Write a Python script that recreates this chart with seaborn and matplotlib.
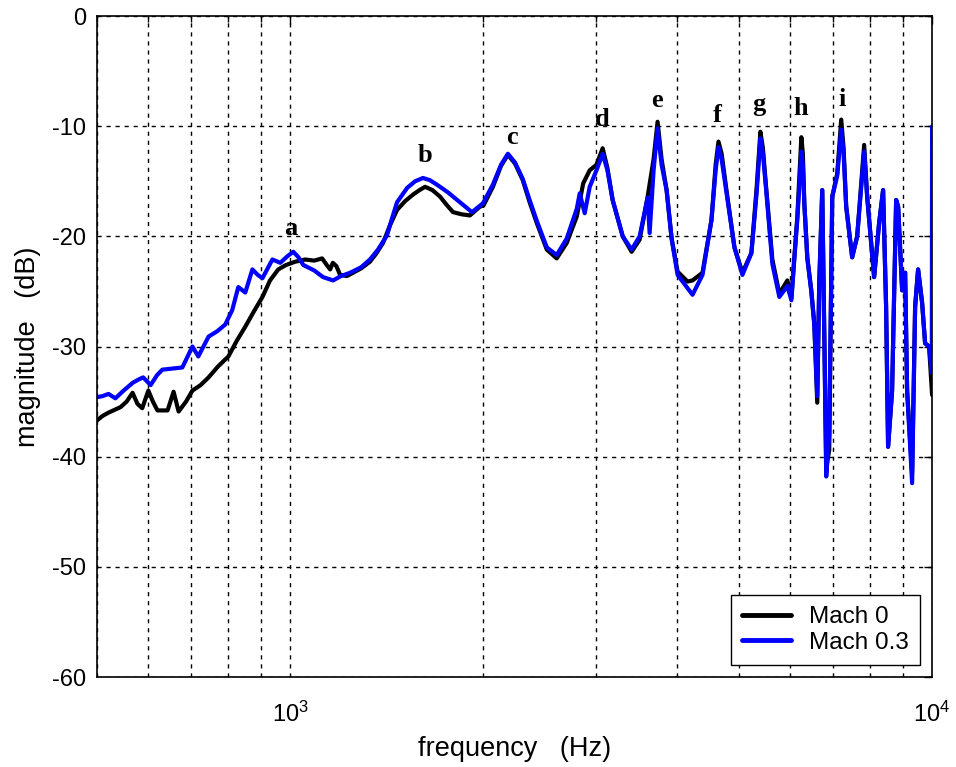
import numpy as np
import pandas as pd
import seaborn as sns
import matplotlib
matplotlib.use("Agg")
import matplotlib.pyplot as plt
from matplotlib.ticker import LogLocator, NullFormatter

# Frequency response, Mach 0 (Hz, dB)
freq_m0 = [500, 510, 521, 544, 556, 568, 578, 588, 601, 611, 621, 644, 658, 670,
           688, 704, 725, 746, 772, 801, 825, 851, 878, 905, 930, 958, 985, 1018,
           1055, 1090, 1121, 1140, 1154, 1165, 1180, 1196, 1225, 1253, 1290, 1331,
           1360, 1395, 1430, 1467, 1510, 1554, 1590, 1622, 1665, 1712, 1750, 1793,
           1850, 1905, 1975, 2000, 2069, 2130, 2183, 2240, 2303, 2360, 2422, 2510,
           2601, 2696, 2795, 2860, 2928, 3000, 3067, 3120, 3179, 3296, 3403, 3502,
           3604, 3682, 3735, 3789, 3858, 3928, 4013, 4159, 4234, 4388, 4532, 4600,
           4647, 4700, 4782, 4921, 5064, 5230, 5330, 5401, 5450, 5518, 5638, 5781,
           5950, 6036, 6101, 6166, 6256, 6290, 6323, 6391, 6483, 6553, 6623, 6671,
           6743, 6840, 6914, 6989, 7115, 7218, 7280, 7348, 7507, 7643, 7837, 7922,
           8122, 8269, 8388, 8479, 8540, 8663, 8790, 8853, 8981, 9078, 9143, 9308,
           9409, 9510, 9647, 9752, 9892, 10000]
mag_m0 = [-36.7, -36.3, -36.0, -35.5, -35.0, -34.2, -35.2, -35.6, -34.0, -35.0,
          -35.8, -35.8, -34.1, -35.9, -35.0, -34.0, -33.5, -32.8, -31.8, -30.9,
          -29.5, -28.2, -26.8, -25.5, -24.0, -23.0, -22.6, -22.3, -22.1, -22.2,
          -22.0, -22.6, -23.0, -22.4, -22.7, -23.5, -23.6, -23.3, -22.9, -22.3,
          -21.6, -20.6, -19.0, -17.6, -16.8, -16.2, -15.8, -15.5, -15.8, -16.4,
          -17.1, -17.8, -18.0, -18.1, -17.3, -17.2, -15.5, -13.6, -12.6, -13.4,
          -14.9, -16.9, -18.8, -21.2, -22.0, -20.6, -18.2, -15.2, -14.0, -13.5,
          -12.0, -13.8, -16.7, -20.0, -21.4, -20.3, -16.4, -13.0, -9.6, -13.0,
          -15.8, -20.2, -23.2, -24.1, -24.0, -23.3, -18.5, -13.5, -11.4, -12.5,
          -15.8, -21.0, -23.3, -21.5, -15.5, -10.5, -12.0, -15.8, -22.1, -25.2,
          -24.0, -25.6, -21.9, -18.2, -11.0, -12.5, -17.0, -21.9, -24.9, -27.9,
          -35.1, -24.2, -15.8, -41.0, -39.4, -16.4, -14.3, -9.4, -12.0, -17.3,
          -21.9, -20.0, -11.7, -16.4, -23.7, -18.8, -15.8, -26.4, -39.1, -34.0,
          -16.7, -17.3, -24.9, -23.3, -34.0, -41.5, -26.4, -23.0, -26.0, -29.7,
          -30.0, -34.4]

# Frequency response, Mach 0.3 (Hz, dB)
freq_m03 = [500, 510, 521, 534, 550, 568, 580, 590, 606, 620, 632, 655, 679, 704,
            719, 746, 770, 792, 812, 830, 851, 873, 890, 905, 938, 965, 990, 1011,
            1030, 1048, 1090, 1125, 1166, 1200, 1240, 1290, 1331, 1370, 1415, 1440,
            1467, 1521, 1565, 1610, 1650, 1692, 1760, 1838, 1919, 1996, 2069, 2130,
            2183, 2240, 2303, 2360, 2422, 2510, 2601, 2696, 2795, 2825, 2876, 2928,
            3000, 3067, 3120, 3179, 3296, 3403, 3502, 3604, 3630, 3682, 3735, 3789,
            3858, 3928, 4013, 4234, 4388, 4532, 4600, 4647, 4700, 4782, 4921, 5064,
            5230, 5330, 5401, 5450, 5518, 5638, 5781, 5950, 6036, 6101, 6166, 6256,
            6290, 6323, 6391, 6483, 6553, 6623, 6671, 6743, 6840, 6914, 6989, 7115,
            7218, 7280, 7348, 7507, 7643, 7837, 7922, 8122, 8269, 8388, 8479, 8540,
            8663, 8790, 8853, 8981, 9078, 9143, 9308, 9409, 9510, 9647, 9752, 9892,
            9990, 10000]
mag_m03 = [-34.6, -34.5, -34.3, -34.7, -34.0, -33.3, -33.0, -32.8, -33.5, -32.6,
           -32.1, -32.0, -31.9, -30.0, -30.9, -29.1, -28.6, -28.0, -26.7, -24.6,
           -25.1, -23.0, -23.5, -23.8, -22.1, -22.4, -21.8, -21.4, -21.9, -22.6,
           -23.1, -23.7, -24.0, -23.6, -23.3, -22.8, -22.1, -21.2, -19.9, -18.4,
           -16.9, -15.6, -15.0, -14.7, -14.9, -15.3, -16.0, -16.9, -17.8, -17.0,
           -15.3, -13.5, -12.5, -13.3, -14.8, -16.7, -18.6, -21.0, -21.7, -20.2,
           -17.5, -16.1, -17.9, -15.5, -14.0, -12.5, -14.0, -16.7, -20.0, -21.2,
           -20.0, -16.5, -19.7, -14.0, -10.2, -13.5, -15.8, -20.2, -23.5, -25.3,
           -23.5, -18.5, -14.0, -11.9, -13.0, -16.0, -21.0, -23.5, -21.5, -16.0,
           -11.1, -12.5, -16.0, -22.5, -25.5, -24.5, -25.8, -22.0, -18.5, -12.3,
           -13.5, -17.0, -22.0, -25.0, -28.0, -34.5, -24.2, -15.8, -41.8, -38.0,
           -16.4, -14.5, -10.3, -12.5, -17.3, -21.9, -20.0, -12.3, -16.4, -23.7,
           -18.8, -15.8, -26.4, -39.1, -34.0, -16.7, -17.3, -24.9, -23.3, -34.0,
           -42.4, -26.4, -23.0, -26.0, -29.7, -30.0, -32.4, -10.0]

series_names = ["Mach 0", "Mach 0.3"]
series_colors = ["#000000", "#0000ff"]

# Resonance peak labels and their positions (Hz, dB)
peak_labels = ["a", "b", "c", "d", "e", "f", "g", "h", "i"]
peak_freq = [1000, 1622, 2215, 3067, 3725, 4630, 5380, 6250, 7240]
peak_mag = [-19.3, -12.7, -11.0, -9.4, -7.7, -9.0, -8.0, -8.4, -7.6]

df = pd.concat([
    pd.DataFrame({"frequency": freq_m0, "magnitude": mag_m0, "case": series_names[0]}),
    pd.DataFrame({"frequency": freq_m03, "magnitude": mag_m03, "case": series_names[1]}),
], ignore_index=True)

sns.set_theme(style="white")
plt.rcParams["font.family"] = ["Liberation Sans", "DejaVu Sans"]
plt.rcParams["axes.unicode_minus"] = False
plt.rcParams["mathtext.default"] = "regular"
for key in ["text.color", "axes.labelcolor", "xtick.color", "ytick.color",
            "axes.edgecolor"]:
    plt.rcParams[key] = "black"

fig = plt.figure(figsize=(9.56, 7.67), dpi=100)
ax = fig.add_axes([0.1015, 0.1173, 0.8735, 0.8618])

sns.lineplot(data=df, x="frequency", y="magnitude", hue="case",
             hue_order=series_names, palette=dict(zip(series_names, series_colors)),
             estimator=None, sort=False, linewidth=3.0, ax=ax)

ax.set_xscale("log")
ax.set_xlim(500, 10000)
ax.set_ylim(-60, 0)
ax.set_yticks(np.arange(-60, 1, 10))
ax.xaxis.set_minor_locator(LogLocator(base=10, subs=np.arange(2, 10)))
ax.xaxis.set_minor_formatter(NullFormatter())

grid_style = dict(color="black", linestyle=(0, (3, 3.5)), linewidth=1.0)
ax.grid(True, which="major", axis="y", **grid_style)
ax.grid(True, which="both", axis="x", **grid_style)

ax.tick_params(which="both", direction="in", top=True, right=True,
               color="black", width=1.0)
ax.tick_params(axis="y", which="major", length=6, labelsize=17, pad=8)
ax.tick_params(axis="x", which="major", length=6, labelsize=17, pad=18)
ax.tick_params(which="minor", length=4)
for s in ax.spines.values():
    s.set_color("black")
    s.set_linewidth(1.2)

ax.set_xlabel("frequency   (Hz)", fontsize=19.5, labelpad=6)
ax.set_ylabel("magnitude   (dB)", fontsize=19.5, labelpad=8)

for lab, fx, fy in zip(peak_labels, peak_freq, peak_mag):
    ax.text(fx, fy, lab, ha="center", va="center", fontsize=19,
            fontweight="bold", family=["Liberation Serif", "DejaVu Serif"])

leg = ax.legend(loc="lower right", fontsize=17.5, frameon=True, fancybox=False,
                edgecolor="black", framealpha=1, handlelength=2.0,
                handletextpad=0.75, borderpad=0.45, labelspacing=0.15,
                borderaxespad=0.5, title=None)
leg.get_frame().set_linewidth(1.0)
for line in leg.get_lines():
    line.set_linewidth(3.5)

fig.savefig("out.png", dpi=100, facecolor="white")
